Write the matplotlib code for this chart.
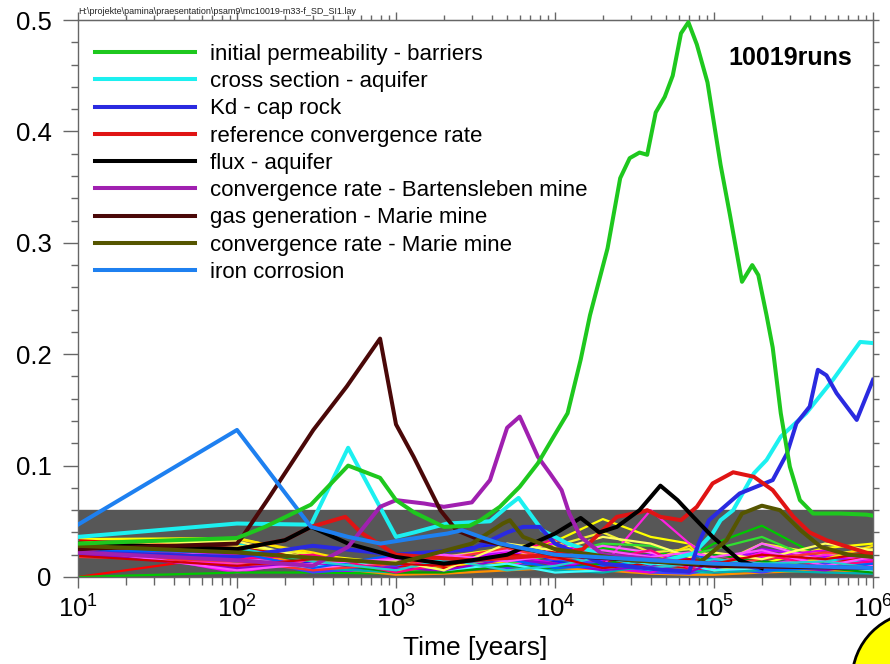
import matplotlib
matplotlib.use('Agg')
import matplotlib.pyplot as plt
from matplotlib.patches import Circle
from matplotlib.ticker import MultipleLocator, NullFormatter, FixedLocator

plt.rcParams['font.family'] = ['Liberation Sans', 'DejaVu Sans']
plt.rcParams['mathtext.fontset'] = 'custom'
plt.rcParams['mathtext.rm'] = 'Liberation Sans'

# highlighted parameters (legend entries)
green_t = [10, 100, 150, 292, 500, 794, 1000, 1300, 2000, 2900, 3400, 4500, 6000, 7800, 9800,
           1.2e4, 1.45e4, 1.66e4, 2.14e4, 2.57e4, 2.95e4, 3.4e4, 3.8e4, 4.3e4, 4.9e4, 5.5e4,
           6.2e4, 6.9e4, 7.8e4, 9.1e4, 1.1e5, 1.26e5, 1.5e5, 1.74e5, 1.9e5, 2.14e5, 2.34e5,
           2.63e5, 3.0e5, 3.47e5, 4.2e5, 6.2e5, 9.1e5, 1e6]
green_v = [0.030, 0.035, 0.045, 0.065, 0.100, 0.089, 0.069, 0.058, 0.045, 0.046, 0.051, 0.063,
           0.081, 0.102, 0.126, 0.147, 0.195, 0.235, 0.295, 0.358, 0.376, 0.381, 0.379, 0.417,
           0.431, 0.450, 0.488, 0.498, 0.478, 0.444, 0.370, 0.325, 0.265, 0.280, 0.271, 0.235,
           0.206, 0.147, 0.099, 0.069, 0.057, 0.057, 0.056, 0.055]

cyan_t = [10, 100, 292, 500, 1000, 1300, 2100, 3900, 5000, 5900, 7200, 8300, 1.2e4, 2e4, 4e4,
          7.4e4, 9.8e4, 1.1e5, 1.32e5, 1.78e5, 1.95e5, 2.14e5, 2.63e5, 3.8e5, 5.6e5, 8.3e5, 1e6]
cyan_v = [0.036, 0.048, 0.047, 0.116, 0.036, 0.040, 0.048, 0.050, 0.063, 0.071, 0.054, 0.042,
          0.030, 0.020, 0.012, 0.021, 0.039, 0.051, 0.060, 0.093, 0.099, 0.105, 0.126, 0.147,
          0.177, 0.211, 0.210]

blue_t = [10, 100, 300, 1000, 3000, 5000, 6300, 8000, 1e4, 2e4, 5e4, 7e4, 8e4, 9.3e4, 1.45e5,
          2.34e5, 2.88e5, 3.3e5, 4e5, 4.5e5, 5.1e5, 5.9e5, 7.9e5, 1e6]
blue_v = [0.022, 0.018, 0.028, 0.020, 0.025, 0.040, 0.045, 0.045, 0.030, 0.012, 0.006, 0.005,
          0.030, 0.051, 0.075, 0.087, 0.111, 0.138, 0.153, 0.186, 0.181, 0.165, 0.141, 0.177]

red_t = [10, 100, 200, 292, 480, 600, 1000, 3000, 1e4, 1.5e4, 1.9e4, 2.45e4, 3.4e4, 3.8e4, 4.6e4,
         6.2e4, 7.8e4, 9.8e4, 1.32e5, 1.78e5, 2.34e5, 3.16e5, 4e5, 5.1e5, 1e6]
red_v = [0.030, 0.025, 0.033, 0.045, 0.054, 0.040, 0.020, 0.015, 0.020, 0.025, 0.039, 0.054,
         0.058, 0.060, 0.054, 0.051, 0.063, 0.084, 0.094, 0.090, 0.078, 0.054, 0.040, 0.033, 0.020]

black_t = [10, 100, 200, 292, 500, 800, 1000, 2000, 3000, 5000, 1e4, 1.45e4, 1.9e4, 2.45e4,
           3.4e4, 4.6e4, 5.9e4, 7.4e4, 9.8e4, 1.45e5, 2e5]
black_v = [0.030, 0.025, 0.033, 0.045, 0.030, 0.022, 0.018, 0.012, 0.015, 0.020, 0.039, 0.053,
           0.040, 0.045, 0.060, 0.082, 0.069, 0.054, 0.036, 0.015, 0.008]

purple_t = [10, 100, 300, 500, 794, 1000, 1500, 2000, 3000, 3900, 5000, 6000, 7800, 9300,
            1.1e4, 1.23e4, 1.45e4, 2e4, 5e4, 1e5, 1e6]
purple_v = [0.022, 0.015, 0.010, 0.027, 0.063, 0.069, 0.066, 0.063, 0.067, 0.087, 0.134, 0.144,
            0.108, 0.093, 0.078, 0.057, 0.036, 0.020, 0.015, 0.010, 0.008]

brown_t = [10, 100, 108, 155, 302, 490, 794, 1000, 1290, 1900, 2400, 3400, 5000, 1e4, 1e5, 1e6]
brown_v = [0.025, 0.030, 0.036, 0.069, 0.132, 0.171, 0.214, 0.137, 0.108, 0.060, 0.042, 0.033,
           0.028, 0.020, 0.010, 0.008]

olive_t = [10, 100, 1000, 3000, 4700, 5200, 6300, 1e4, 3e4, 8e4, 1.2e5, 1.5e5, 2e5, 2.6e5,
           3.5e5, 4.7e5, 7e5, 1e6]
olive_v = [0.028, 0.022, 0.012, 0.030, 0.048, 0.051, 0.036, 0.025, 0.015, 0.012, 0.033, 0.057,
           0.064, 0.060, 0.042, 0.027, 0.020, 0.018]

azure_t = [10, 100, 292, 500, 800, 1200, 2100, 2600, 3900, 4500, 1e4, 1e5, 1e6]
azure_v = [0.047, 0.132, 0.045, 0.036, 0.030, 0.034, 0.039, 0.042, 0.033, 0.030, 0.020, 0.012, 0.008]

labels = ['initial permeability - barriers', 'cross section - aquifer', 'Kd - cap rock',
          'reference convergence rate', 'flux - aquifer', 'convergence rate - Bartensleben mine',
          'gas generation - Marie mine', 'convergence rate - Marie mine', 'iron corrosion']
colors = ['#1ec81e', '#1cf0f0', '#2a2ae0', '#e01414', '#000000', '#a020b0', '#4a0808',
          '#555500', '#1e80f0']
series_t = [green_t, cyan_t, blue_t, red_t, black_t, purple_t, brown_t, olive_t, azure_t]
series_v = [green_v, cyan_v, blue_v, red_v, black_v, purple_v, brown_v, olive_v, azure_v]

# remaining parameters (thin bundle near zero)
bundle_t = [10, 100, 300, 1000, 2000, 5000, 1e4, 2e4, 4e4, 7e4, 1e5, 2e5, 5e5, 1e6]
bundle_colors = ['#ff0000', '#ff00ff', '#ffff00', '#00c800', '#1818ff', '#00e8e8', '#ff40b0',
                 '#b000ff', '#ff9000', '#f0f030', '#ff20e0', '#30e030', '#e00000', '#4040ff',
                 '#e000e0', '#00b0b0', '#ffe000', '#ff60ff', '#00a000', '#ff3030', '#40ffff',
                 '#9000d0', '#ff0080', '#ffff60', '#0060ff', '#ff50ff', '#20d0d0', '#d00000']
bundle_v = [
    [0.000, 0.020, 0.012, 0.006, 0.008, 0.012, 0.022, 0.014, 0.010, 0.008, 0.006, 0.012, 0.008, 0.005],
    [0.030, 0.004, 0.016, 0.010, 0.014, 0.022, 0.030, 0.020, 0.016, 0.012, 0.010, 0.022, 0.012, 0.014],
    [0.034, 0.035, 0.020, 0.012, 0.018, 0.026, 0.032, 0.052, 0.036, 0.030, 0.016, 0.012, 0.026, 0.030],
    [0.000, 0.004, 0.004, 0.003, 0.010, 0.018, 0.012, 0.026, 0.022, 0.018, 0.030, 0.046, 0.016, 0.010],
    [0.025, 0.020, 0.012, 0.016, 0.024, 0.030, 0.014, 0.008, 0.006, 0.006, 0.012, 0.008, 0.010, 0.006],
    [0.028, 0.030, 0.014, 0.008, 0.010, 0.014, 0.020, 0.012, 0.006, 0.004, 0.004, 0.010, 0.016, 0.012],
    [0.022, 0.012, 0.010, 0.015, 0.012, 0.010, 0.026, 0.018, 0.012, 0.010, 0.020, 0.012, 0.008, 0.010],
    [0.024, 0.016, 0.006, 0.005, 0.012, 0.024, 0.010, 0.015, 0.020, 0.016, 0.010, 0.025, 0.018, 0.014],
    [0.030, 0.024, 0.010, 0.002, 0.003, 0.006, 0.008, 0.006, 0.003, 0.002, 0.002, 0.004, 0.006, 0.005],
    [0.032, 0.028, 0.020, 0.008, 0.012, 0.016, 0.028, 0.040, 0.022, 0.025, 0.010, 0.030, 0.020, 0.025],
    [0.026, 0.010, 0.015, 0.012, 0.010, 0.008, 0.025, 0.010, 0.060, 0.030, 0.015, 0.010, 0.020, 0.015],
    [0.030, 0.022, 0.016, 0.006, 0.008, 0.012, 0.020, 0.030, 0.028, 0.020, 0.025, 0.036, 0.012, 0.008],
    [0.033, 0.026, 0.018, 0.010, 0.008, 0.014, 0.024, 0.012, 0.008, 0.010, 0.004, 0.008, 0.012, 0.018],
    [0.020, 0.018, 0.004, 0.010, 0.020, 0.008, 0.016, 0.012, 0.004, 0.003, 0.008, 0.004, 0.012, 0.008],
    [0.028, 0.020, 0.010, 0.018, 0.014, 0.020, 0.012, 0.008, 0.004, 0.014, 0.012, 0.018, 0.024, 0.016],
    [0.026, 0.014, 0.008, 0.004, 0.014, 0.010, 0.006, 0.004, 0.010, 0.006, 0.004, 0.006, 0.004, 0.003],
    [0.031, 0.034, 0.022, 0.006, 0.010, 0.014, 0.034, 0.020, 0.014, 0.028, 0.006, 0.010, 0.016, 0.028],
    [0.027, 0.018, 0.008, 0.012, 0.018, 0.024, 0.018, 0.028, 0.022, 0.012, 0.008, 0.030, 0.014, 0.010],
    [0.031, 0.024, 0.014, 0.004, 0.004, 0.010, 0.008, 0.012, 0.018, 0.012, 0.020, 0.014, 0.008, 0.004],
    [0.018, 0.014, 0.006, 0.012, 0.016, 0.026, 0.016, 0.020, 0.008, 0.006, 0.010, 0.016, 0.022, 0.020],
    [0.023, 0.016, 0.010, 0.014, 0.006, 0.012, 0.004, 0.006, 0.012, 0.010, 0.006, 0.008, 0.010, 0.006],
    [0.021, 0.008, 0.012, 0.008, 0.006, 0.016, 0.012, 0.006, 0.010, 0.004, 0.014, 0.010, 0.006, 0.012],
    [0.029, 0.016, 0.020, 0.004, 0.012, 0.020, 0.034, 0.016, 0.024, 0.008, 0.014, 0.020, 0.010, 0.014],
    [0.030, 0.032, 0.016, 0.014, 0.006, 0.030, 0.024, 0.036, 0.030, 0.018, 0.022, 0.016, 0.030, 0.024],
    [0.024, 0.022, 0.008, 0.020, 0.012, 0.016, 0.008, 0.010, 0.014, 0.020, 0.016, 0.006, 0.008, 0.012],
    [0.025, 0.006, 0.012, 0.016, 0.020, 0.014, 0.020, 0.024, 0.018, 0.022, 0.018, 0.024, 0.010, 0.018],
    [0.027, 0.026, 0.014, 0.006, 0.016, 0.006, 0.010, 0.018, 0.008, 0.012, 0.016, 0.012, 0.014, 0.008],
    [0.019, 0.010, 0.016, 0.012, 0.010, 0.020, 0.018, 0.008, 0.012, 0.016, 0.012, 0.020, 0.016, 0.022],
]

y_ticks = [0, 0.1, 0.2, 0.3, 0.4, 0.5]
y_tick_labels = ['0', '0.1', '0.2', '0.3', '0.4', '0.5']
band_top = 0.06

fig = plt.figure(figsize=(8.9, 6.64), dpi=100)
ax = fig.add_axes([78/890, 87/664, 795/890, 557/664])
ax.set_xscale('log')
ax.set_xlim(10, 1e6)
ax.set_ylim(0, 0.5)

ax.axhspan(0, band_top, color='#575757', zorder=1)

for c, v in zip(bundle_colors, bundle_v):
    ax.plot(bundle_t, v, color=c, lw=1.6, zorder=2)

handles = []
for lab, c, t, v in zip(labels, colors, series_t, series_v):
    h, = ax.plot(t, v, color=c, lw=2.9, label=lab, zorder=3)
    handles.append(h)
# green on top
handles[0].set_zorder(4)

ax.legend(handles=handles, loc='upper left', bbox_to_anchor=(0.021, 0.957), frameon=False,
          fontsize=16, handlelength=4.5, handletextpad=0.68, labelspacing=0.28,
          borderpad=0, borderaxespad=0)

ax.text(0.974, 0.932, '10019runs', transform=ax.transAxes, ha='right', va='center',
        fontsize=18, fontweight='bold')
fig.text(78/890, 1 - 12/664, r'H:\projekte\pamina\praesentation\psam9\mc10019-m33-f_SD_SI1.lay',
         fontsize=6.5, va='center', color='#222222')

for s in ax.spines.values():
    s.set_color('#666666')
    s.set_linewidth(1)

ax.set_yticks(y_ticks)
ax.set_yticklabels(y_tick_labels)
ax.yaxis.set_minor_locator(MultipleLocator(0.02))
ax.tick_params(axis='y', which='major', length=11, width=1, color='#666666', labelsize=18.5, pad=8)
ax.tick_params(axis='y', which='minor', length=5, width=1, color='#666666')
ax.tick_params(axis='x', which='major', length=8, width=1, color='#666666', labelsize=18.5, pad=5)
ax.tick_params(axis='x', which='minor', length=5.5, width=1, color='#666666')

top = ax.secondary_xaxis('top')
top.tick_params(which='major', length=6, width=1, color='#666666', direction='out')
top.tick_params(which='minor', length=3.5, width=1, color='#666666', direction='out')
top.xaxis.set_major_formatter(NullFormatter())
top.xaxis.set_minor_formatter(NullFormatter())
top.spines['top'].set_color('#666666')

right = ax.secondary_yaxis('right')
right.yaxis.set_major_locator(FixedLocator(y_ticks))
right.yaxis.set_minor_locator(MultipleLocator(0.02))
right.tick_params(which='both', length=4, width=1, color='#666666', direction='out')
right.yaxis.set_major_formatter(NullFormatter())
right.spines['right'].set_color('#666666')

ax.set_xlabel('Time [years]', fontsize=19, labelpad=10)

circ = Circle((9.2, -0.16), 0.68, transform=fig.dpi_scale_trans, facecolor='#ffff00',
              edgecolor='black', lw=2)
fig.add_artist(circ)

fig.savefig('out.png', dpi=100)
